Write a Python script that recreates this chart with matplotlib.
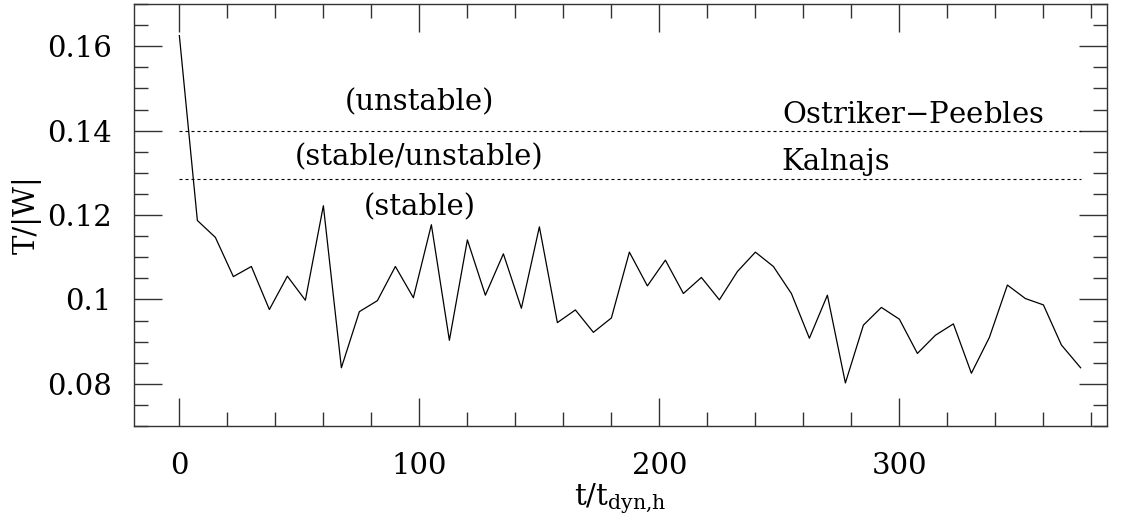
import matplotlib
matplotlib.use("Agg")
import matplotlib.pyplot as plt
from matplotlib.ticker import MultipleLocator, FormatStrFormatter

# data
t = [0, 7.5, 15, 22.5, 30, 37.5, 45, 52.5, 60, 67.5,
     75, 82.5, 90, 97.5, 105, 112.5, 120, 127.5, 135, 142.5,
     150, 157.5, 165, 172.5, 180, 187.5, 195, 202.5, 210, 217.5,
     225, 232.5, 240, 247.5, 255, 262.5, 270, 277.5, 285, 292.5,
     300, 307.5, 315, 322.5, 330, 337.5, 345, 352.5, 360, 367.5,
     375.5]
ratio = [0.1625, 0.1187, 0.1147, 0.1054, 0.1078, 0.0976, 0.1055, 0.0998, 0.1222, 0.0838,
         0.0971, 0.0997, 0.1078, 0.1004, 0.1177, 0.0903, 0.1141, 0.1010, 0.1108, 0.0979,
         0.1172, 0.0945, 0.0975, 0.0922, 0.0956, 0.1112, 0.1032, 0.1093, 0.1014, 0.1052,
         0.0999, 0.1066, 0.1112, 0.1078, 0.1014, 0.0908, 0.1010, 0.0802, 0.0939, 0.0981,
         0.0953, 0.0872, 0.0915, 0.0942, 0.0825, 0.0910, 0.1034, 0.1002, 0.0987, 0.0892,
         0.0838]

ostriker_peebles = 0.14
kalnajs = 0.1286

plt.rcParams['font.family'] = ['DejaVu Serif']
plt.rcParams['mathtext.fontset'] = 'dejavuserif'
fs = 21

fig = plt.figure(figsize=(11.23, 5.27), dpi=100)
ax = fig.add_axes([134/1123, 101/527, 973/1123, 422/527])

ax.plot(t, ratio, color='black', lw=0.9)
ax.plot([t[0], t[-1]], [ostriker_peebles]*2, color='black', lw=0.8, ls=(0, (2.7, 2.7)))
ax.plot([t[0], t[-1]], [kalnajs]*2, color='black', lw=0.8, ls=(0, (2.7, 2.7)))

ax.text(100, 0.1447, '(unstable)', ha='center', va='baseline', fontsize=fs)
ax.text(100, 0.1318, '(stable/unstable)', ha='center', va='baseline', fontsize=fs)
ax.text(100, 0.1200, '(stable)', ha='center', va='baseline', fontsize=fs)
ax.text(251, 0.1418, 'Ostriker$-$Peebles', ha='left', va='baseline', fontsize=fs)
ax.text(251, 0.1306, 'Kalnajs', ha='left', va='baseline', fontsize=fs)

ax.set_xlim(-18.9, 386.5)
ax.set_ylim(0.07, 0.17)

ax.xaxis.set_major_locator(MultipleLocator(100))
ax.xaxis.set_minor_locator(MultipleLocator(20))
ax.yaxis.set_major_locator(MultipleLocator(0.02))
ax.yaxis.set_minor_locator(MultipleLocator(0.005))
ax.yaxis.set_major_formatter(FormatStrFormatter('%g'))

ax.tick_params(which='both', direction='in', top=True, right=True, width=1, color='#333333')
ax.tick_params(which='major', length=20, labelsize=fs, pad=19)
ax.tick_params(which='minor', length=10)
ax.tick_params(axis='y', which='major', pad=16)
for s in ax.spines.values():
    s.set_linewidth(1)
    s.set_color('#333333')

ax.set_xlabel('t/t$_{\\mathrm{dyn{,}h}}$', fontsize=fs, labelpad=1)
ax.set_ylabel('T/|W|', fontsize=fs, labelpad=4)

fig.savefig('out.png', dpi=100)
